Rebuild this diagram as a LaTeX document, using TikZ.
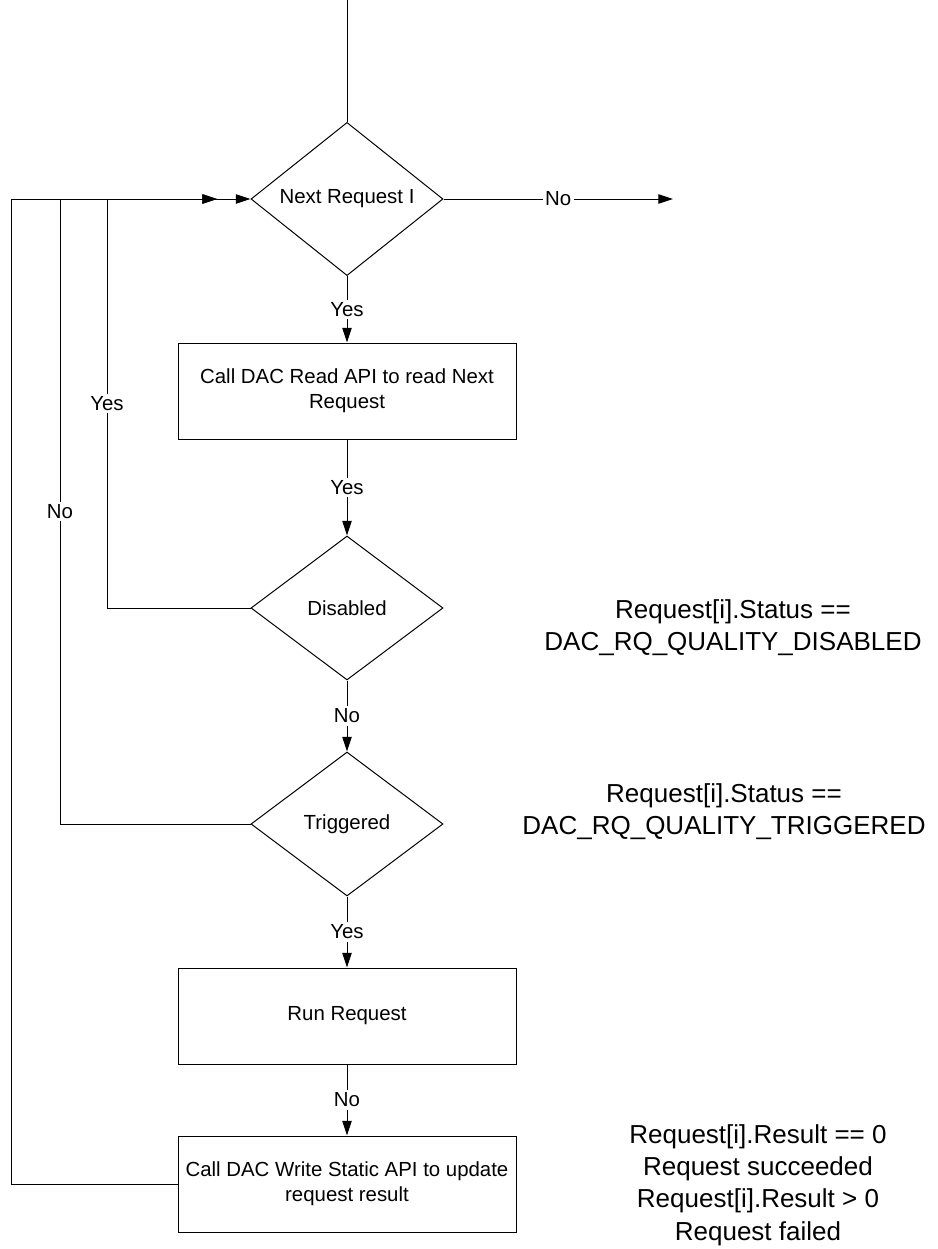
\documentclass[tikz,border=0pt]{standalone}
\usepackage{fontspec}
\setmainfont{Liberation Sans}
\usetikzlibrary{shapes.geometric,arrows.meta}

\begin{document}
\begin{tikzpicture}[x=0.75pt, y=-0.75pt, line width=0.75pt, >={Triangle[length=11pt,width=7pt]}]
        \tikzstyle{every node}=[font=\fontsize{15.3}{18.5}\selectfont]
        \tikzstyle{decision}=[draw, diamond, inner sep=0pt, minimum width=144pt, minimum height=108pt]
        \tikzstyle{process}=[draw, rectangle, align=center, minimum width=253.5pt, minimum height=72pt]
        \tikzstyle{lbl}=[fill=white, inner sep=2pt]
        \tikzstyle{note}=[align=center, font=\fontsize{19.5}{24.2}\selectfont]
        \useasboundingbox (0,0) rectangle (938,1249);
        % main column
        \coordinate (top) at (347,0);
        \node [decision] (next) at (347,199) {Next Request I};
        \node [process] (read) at (347,391) {Call DAC Read API to read Next\\Request};
        \node [decision] (disabled) at (347,608) {Disabled};
        \node [decision] (triggered) at (347,824) {Triggered};
        \node [process] (run) at (347,1016) {Run Request};
        \node [process] (write) at (347,1184) {Call DAC Write Static API to update\\request result};
        \coordinate (out) at (673,199);
        \coordinate (merge) at (217,199);
        \coordinate (railA) at (107,199);
        \coordinate (railB) at (60,199);
        \coordinate (railC) at (11,199);
        % notes
        \node [note] (disnote) at (733,628) {Request[i].Status ==\\DAC\_RQ\_QUALITY\_DISABLED};
        \node [note] (trgnote) at (724,812) {Request[i].Status ==\\DAC\_RQ\_QUALITY\_TRIGGERED};
        \node [note] (resnote) at (758,1185) {Request[i].Result == 0\\Request succeeded\\Request[i].Result > 0\\Request failed};
        % connectors
        \draw (top) -- (next.north);
        \draw [->] (next.east) -- node [lbl] {No} (out);
        \draw [->] (next.south) -- node [lbl] {Yes} (read.north);
        \draw [->] (read.south) -- node [lbl] {Yes} (disabled.north);
        \draw [->] (disabled.south) -- node [lbl] {No} (triggered.north);
        \draw [->] (triggered.south) -- node [lbl] {Yes} (run.north);
        \draw [->] (run.south) -- node [lbl] {No} (write.north);
        \draw (disabled.west) -| node [lbl, pos=0.75] {Yes} (railA);
        \draw (triggered.west) -| node [lbl, pos=0.75] {No} (railB);
        \draw (write.west) -| (railC);
        \draw [->] (railA) -- (merge);
        \draw [->] (railB) -- (merge);
        \draw [->] (railC) -- (next.west);
    \end{tikzpicture}
\end{document}
